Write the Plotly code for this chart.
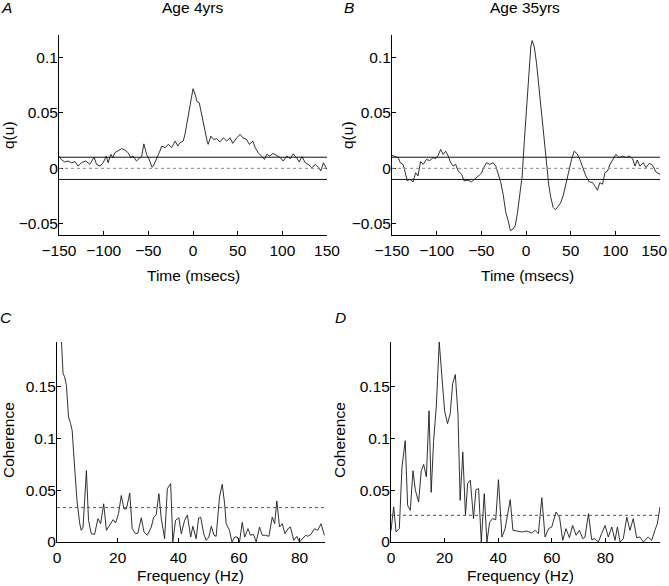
import plotly.graph_objects as go

# ---------------- data ----------------
# Panel A: Age 4yrs, q(u) vs time (ms)
a_time = [-150, -147.4, -143.6, -140, -136, -132, -128.7, -125, -120, -115.6, -110.7, -108, -104, -100.6,
          -97, -95, -92, -89.6, -87.7, -83.8, -80, -76, -72.6, -69.6, -67, -63.3, -60, -57.4, -55, -52,
          -49, -46, -44.5, -40.8, -37.8, -35, -31, -27.7, -24, -20, -17, -14.6, -11, -9, -7, -4.5, -1.5,
          0, 2.6, 4.5, 7, 9.5, 12, 15.8, 17, 20, 23, 26.6, 30, 34, 37.8, 41.5, 44.5, 49, 52.8, 55.8, 60,
          63, 67, 69.6, 73, 77, 80, 82.6, 86, 89.6, 94, 97.6, 101, 105, 109, 112, 116, 119, 122, 125.7,
          129, 133, 137, 140.7, 143, 146, 150]
a_q = [0.011, 0.008, 0.0057, 0.0066, 0.005, 0.006, 0.002, 0.005, 0.0066, 0.0036, 0.010, 0.0036, 0.002, 0.005,
       0.011, 0.005, 0.0126, 0.0096, 0.014, 0.0156, 0.0177, 0.0165, 0.014, 0.0096, 0.011, 0.0066, 0.0096, 0.011,
       0.022, 0.0126, 0.008, 0.001, 0.002, 0.008, 0.014, 0.020, 0.0186, 0.0216, 0.0186, 0.0245, 0.020, 0.023,
       0.0245, 0.0305, 0.0395, 0.053, 0.068, 0.0716, 0.066, 0.060, 0.059, 0.0485, 0.038, 0.0245, 0.0216, 0.029,
       0.026, 0.0267, 0.0237, 0.0275, 0.0245, 0.0275, 0.0225, 0.0275, 0.0305, 0.0275, 0.026, 0.0216, 0.0245,
       0.0186, 0.014, 0.011, 0.008, 0.0126, 0.011, 0.0135, 0.011, 0.0096, 0.0066, 0.011, 0.0087, 0.013, 0.0096,
       0.0057, 0.0105, 0.005, 0.0036, 0.0006, 0.0036, 0.0006, -0.0024, 0.005, -0.001]

# Panel B: Age 35yrs, q(u) vs time (ms)
b_time = [-150, -147, -143, -140.7, -137.7, -136, -133, -130, -126.5, -123.5, -121, -118, -115, -111.5,
          -107.8, -104, -101, -98.4, -95.5, -92.8, -90, -87, -84.6, -81.6, -78.7, -76, -72, -69.3, -65,
          -61, -57.4, -53.6, -50, -47, -44.3, -40.5, -36.8, -33.8, -31, -28.2, -25.6, -22.6, -20, -17.4,
          -14.4, -12, -9.5, -6.9, -4.3, -2, 0.5, 3.2, 5.4, 6.9, 9.2, 11.8, 14.4, 17.4, 20, 23, 25.6, 27.8,
          30.4, 33, 36, 38.6, 41.6, 45.4, 48.4, 51, 54, 57.3, 60.3, 63.3, 67, 70.8, 74.5, 77, 80, 82.7,
          85.7, 88.3, 91.3, 94, 97, 100.6, 104.4, 108, 111.9, 115.6, 119.3, 122, 124.5, 127.5, 131.3,
          134.3, 138, 141.7, 145.5, 150]
b_q = [0.0116, 0.011, 0.0096, 0.005, 0.0036, -0.001, -0.0113, -0.0099, -0.0122, -0.004, -0.0069, 0.006,
       0.0036, 0.008, 0.007, 0.0096, 0.0087, 0.0116, 0.017, 0.0125, 0.0155, 0.011, 0.0057, 0.002, 0.0036,
       -0.0024, -0.0054, -0.0113, -0.0107, -0.0122, -0.0099, -0.0075, -0.0045, 0.001, 0.005, 0.0036, 0.005,
       0.002, -0.0054, -0.0128, -0.0233, -0.0397, -0.047, -0.0561, -0.0546, -0.0516, -0.0397, -0.0248,
       -0.0069, 0.023, 0.0528, 0.0857, 0.1096, 0.115, 0.1096, 0.0946, 0.0737, 0.0469, 0.023, 0.002, -0.0158,
       -0.0263, -0.0352, -0.0373, -0.0337, -0.0313, -0.0248, -0.0113, 0.0006, 0.008, 0.0155, 0.013, 0.008,
       0.0006, -0.0069, -0.0122, -0.0128, -0.0158, -0.0197, -0.0128, -0.0143, -0.004, -0.0024, 0.0036,
       0.0075, 0.0125, 0.0096, 0.011, 0.0096, 0.011, 0.0087, 0.002, 0.0075, 0.002, 0.005, 0.0006, 0.0045,
       0.0027, -0.0033, -0.0054]

# Panel C: Age 4yrs, coherence vs frequency (Hz)
c_freq = [0, 1.2, 2, 2.5, 3.1, 3.8, 4.5, 5, 5.8, 6.6, 7.5, 8, 8.6, 9.7, 10.4, 11.3, 12.4, 13.5, 14.4, 15.4,
          16.3, 17.4, 18.5, 19.3, 20.3, 21.2, 22.1, 22.9, 24, 24.8, 25.9, 26.7, 27.8, 28.7, 29.8, 31.1,
          31.9, 32.7, 33.6, 34.4, 35.5, 36.4, 37.5, 38.2, 39.1, 40.2, 41, 42.1, 43, 44.1, 44.8, 45.9, 46.7,
          47.4, 48.4, 49.2, 50.1, 50.9, 51.8, 52.5, 53.6, 54.5, 55.3, 55.8, 56.9, 57.7, 58.6, 59.5, 60.2,
          61.1, 61.9, 63, 63.8, 64.8, 65.7, 66.8, 67.7, 68.8, 69.9, 71, 71.8, 72.5, 73.4, 74.3, 75.2, 76.2,
          77, 78.1, 79.1, 80, 80.9, 82, 82.7, 83.8, 84.9, 86, 87.1, 88.2]
c_coh = [0.26, 0.21, 0.163, 0.16, 0.1516, 0.121, 0.1145, 0.108, 0.0726, 0.040, 0.0177, 0.0113, 0.0145, 0.069,
         0.021, 0.008, 0.0074, 0.0226, 0.0177, 0.037, 0.0113, 0.016, 0.0216, 0.0184, 0.0274, 0.045, 0.032,
         0.032, 0.0474, 0.0129, 0.008, 0.0087, 0.0235, 0.0097, 0.0065, 0.0145, 0.024, 0.026, 0.0468, 0.0226,
         0.0032, 0.0516, 0.0565, 0.0, 0.021, 0.0235, 0.008, 0.021, 0.026, 0.0048, 0.0152, 0.0032, 0.0232,
         0.024, 0.008, 0.0016, 0.0048, 0.0152, 0.0065, 0.0055, 0.0435, 0.0558, 0.037, 0.0177, 0.0113, 0.0,
         0.0048, 0.0048, 0.0, 0.019, 0.0048, 0.0129, 0.0065, 0.0074, 0.0, 0.0145, 0.0065, 0.0065, 0.0055,
         0.024, 0.0177, 0.0397, 0.0145, 0.0177, 0.008, 0.0129, 0.0145, 0.0016, 0.0055, 0.0, 0.0032, 0.0065,
         0.0055, 0.0074, 0.0129, 0.0113, 0.0177, 0.0065]

# Panel D: Age 35yrs, coherence vs frequency (Hz)
d_freq = [0, 1, 1.9, 3.1, 4.1, 5.3, 6.2, 7.2, 8.2, 9.1, 10.3, 11.3, 12.2, 13.2, 14.2, 15, 15.9, 16.9, 18,
          19, 20, 21.1, 22.1, 23, 24, 25, 25.8, 26.8, 27.8, 28.6, 29.6, 30.8, 31.7, 32.7, 33.7, 34.8, 35.8,
          36.8, 37.9, 39.1, 40.1, 41.4, 42.6, 44.5, 45.5, 47, 48.8, 50.7, 52.5, 53.8, 55, 56.3, 57.5, 58.8,
          60, 61.6, 62.9, 64.1, 65.3, 66.6, 67.8, 69.1, 70.3, 71.6, 72.4, 73.7, 74.9, 76.1, 77.4, 78.6,
          79.9, 81.1, 82.4, 83.6, 84.5, 85.5, 86.7, 88, 89.2, 90.4, 91.7, 92.9, 94.2, 96, 97.3, 98.5, 99.4,
          100.4]
d_coh = [0.011, 0.034, 0.0097, 0.0129, 0.0726, 0.098, 0.0355, 0.0306, 0.069, 0.05, 0.0387, 0.069, 0.075,
         0.063, 0.127, 0.048, 0.098, 0.1306, 0.1935, 0.156, 0.127, 0.1145, 0.124, 0.153, 0.162, 0.124,
         0.0403, 0.087, 0.0258, 0.0565, 0.0597, 0.0226, 0.0506, 0.0516, 0.0, 0.0468, 0.0, 0.019, 0.0226,
         0.0216, 0.0603, 0.0048, 0.0129, 0.041, 0.0113, 0.0106, 0.0097, 0.0106, 0.0087, 0.0113, 0.0081,
         0.0429, 0.0048, 0.0129, 0.0145, 0.029, 0.024, 0.0016, 0.0129, 0.0042, 0.016, 0.0065, 0.0113,
         0.0032, 0.0048, 0.0274, 0.0023, 0.0032, 0.0, 0.0081, 0.016, 0.0048, 0.0145, 0.0016, 0.0145, 0.0,
         0.0032, 0.024, 0.0113, 0.0226, 0.0042, 0.0048, 0.0, 0.0048, 0.0016, 0.0113, 0.0177, 0.034]

# significance limits
ab_limit = 0.01
c_limit = 0.0333
d_limit = 0.0258

# tick labels
time_ticks = [-150, -100, -50, 0, 50, 100, 150]
time_ticktext = ["\u2212150", "\u2212100", "\u221250", "0", "50", "100", "150"]
# last label nudged left (figure space + thin space) so it stays inside the page, as in the original
time_ticktext_b = ["\u2212150", "\u2212100", "\u221250", "0", "50", "100", "150\u2007\u2009"]
q_ticks = [-0.05, 0, 0.05, 0.1]
q_ticktext = ["\u22120.05", "0", "0.05", "0.1"]
freq_ticks = [0, 20, 40, 60, 80]
freq_ticktext = ["0", "20", "40", "60", "80"]
coh_ticks = [0, 0.05, 0.1, 0.15]
coh_ticktext = ["0", "0.05", "0.1", "0.15"]

# ---------------- figure ----------------
W, H = 669, 586
FONT = "Liberation Sans, Arial, Helvetica, sans-serif"
FS = 15.5


def px_x(v):
    return v / W


def px_y(v):
    return 1 - v / H


fig = go.Figure()
fig.update_layout(template="none")

line_style = dict(color="#1a1a1a", width=0.9)

fig.add_trace(go.Scatter(x=a_time, y=a_q, mode="lines", line=line_style, xaxis="x", yaxis="y", showlegend=False))
fig.add_trace(go.Scatter(x=b_time, y=b_q, mode="lines", line=line_style, xaxis="x2", yaxis="y2", showlegend=False))
fig.add_trace(go.Scatter(x=c_freq, y=c_coh, mode="lines", line=line_style, xaxis="x3", yaxis="y3", showlegend=False))
fig.add_trace(go.Scatter(x=d_freq, y=d_coh, mode="lines", line=line_style, xaxis="x4", yaxis="y4", showlegend=False))

shapes = []
for xa, ya in [("x", "y"), ("x2", "y2")]:
    for val in (ab_limit, -ab_limit):
        shapes.append(dict(type="line", xref=f"{xa} domain", yref=ya, x0=0, x1=1, y0=val, y1=val,
                           line=dict(color="#111111", width=1)))
    shapes.append(dict(type="line", xref=f"{xa} domain", yref=ya, x0=0, x1=1, y0=0, y1=0,
                       line=dict(color="#888888", width=1, dash="dot")))
shapes.append(dict(type="line", xref="x3 domain", yref="y3", x0=0, x1=1, y0=c_limit, y1=c_limit,
                   line=dict(color="#555555", width=1, dash="dot")))
shapes.append(dict(type="line", xref="x4 domain", yref="y4", x0=0, x1=1, y0=d_limit, y1=d_limit,
                   line=dict(color="#555555", width=1, dash="dot")))

axis_common = dict(showline=True, linecolor="black", linewidth=1, ticks="inside", ticklen=4,
                   tickcolor="black", tickwidth=1, showgrid=False, zeroline=False, mirror=False,
                   automargin=False, tickmode="array", ticklabeloverflow="allow",
                   tickfont=dict(family=FONT, size=FS, color="black"))
xaxis_common = dict(axis_common, ticklabelstandoff=1)
yaxis_common = dict(axis_common, ticklabelstandoff=-3)

dom_a_x = [px_x(59), px_x(327)]
dom_b_x = [px_x(392), px_x(660)]
dom_c_x = [px_x(57), px_x(325)]
dom_d_x = [px_x(391), px_x(660)]
dom_top_y = [px_y(235), px_y(35)]
dom_bot_y = [px_y(542), px_y(342)]

fig.update_layout(
    width=W, height=H,
    margin=dict(l=0, r=0, t=0, b=0, pad=0),
    paper_bgcolor="white", plot_bgcolor="white",
    font=dict(family=FONT, size=FS, color="black"),
    shapes=shapes,
    xaxis=dict(domain=dom_a_x, anchor="y", range=[-150, 150], tickvals=time_ticks, ticktext=time_ticktext, **xaxis_common),
    yaxis=dict(domain=dom_top_y, anchor="x", range=[-0.06, 0.12], tickvals=q_ticks, ticktext=q_ticktext, **yaxis_common),
    xaxis2=dict(domain=dom_b_x, anchor="y2", range=[-150, 150], tickvals=time_ticks, ticktext=time_ticktext_b, **xaxis_common),
    yaxis2=dict(domain=dom_top_y, anchor="x2", range=[-0.06, 0.12], tickvals=q_ticks, ticktext=q_ticktext, **yaxis_common),
    xaxis3=dict(domain=dom_c_x, anchor="y3", range=[0, 88.4], tickvals=freq_ticks, ticktext=freq_ticktext, **xaxis_common),
    yaxis3=dict(domain=dom_bot_y, anchor="x3", range=[0, 0.1935], tickvals=coh_ticks, ticktext=coh_ticktext, **yaxis_common),
    xaxis4=dict(domain=dom_d_x, anchor="y4", range=[0, 100.4], tickvals=freq_ticks, ticktext=freq_ticktext, **xaxis_common),
    yaxis4=dict(domain=dom_bot_y, anchor="x4", range=[0, 0.1935], tickvals=coh_ticks, ticktext=coh_ticktext, **yaxis_common),
)


def text(x, y, s, size=FS, italic=False, angle=0):
    fig.add_annotation(x=px_x(x), y=px_y(y), xref="paper", yref="paper", text=s, showarrow=False,
                       xanchor="center", yanchor="middle", textangle=angle, borderpad=0,
                       font=dict(family=FONT, size=size, color="black",
                                 style="italic" if italic else "normal"))


# titles and panel letters
text(192, 8, "Age 4yrs")
text(525, 8, "Age 35yrs")
text(6, 8, "A", italic=True)
text(349, 8, "B", italic=True)
text(6, 317, "C", italic=True)
text(341, 317, "D", italic=True)
# axis titles
text(193, 275, "Time (msecs)")
text(527, 275, "Time (msecs)")
text(190, 575, "Frequency (Hz)")
text(520, 575, "Frequency (Hz)")
text(8, 135, "q(u)", angle=-90)
text(347, 135, "q(u)", angle=-90)
text(8, 440, "Coherence", angle=-90)
text(339, 440, "Coherence", angle=-90)

fig.write_html("out.html", config={"displayModeBar": False},
               post_script="document.body.style.margin='0';document.body.style.padding='0';"
                           "document.body.style.overflow='hidden';")
